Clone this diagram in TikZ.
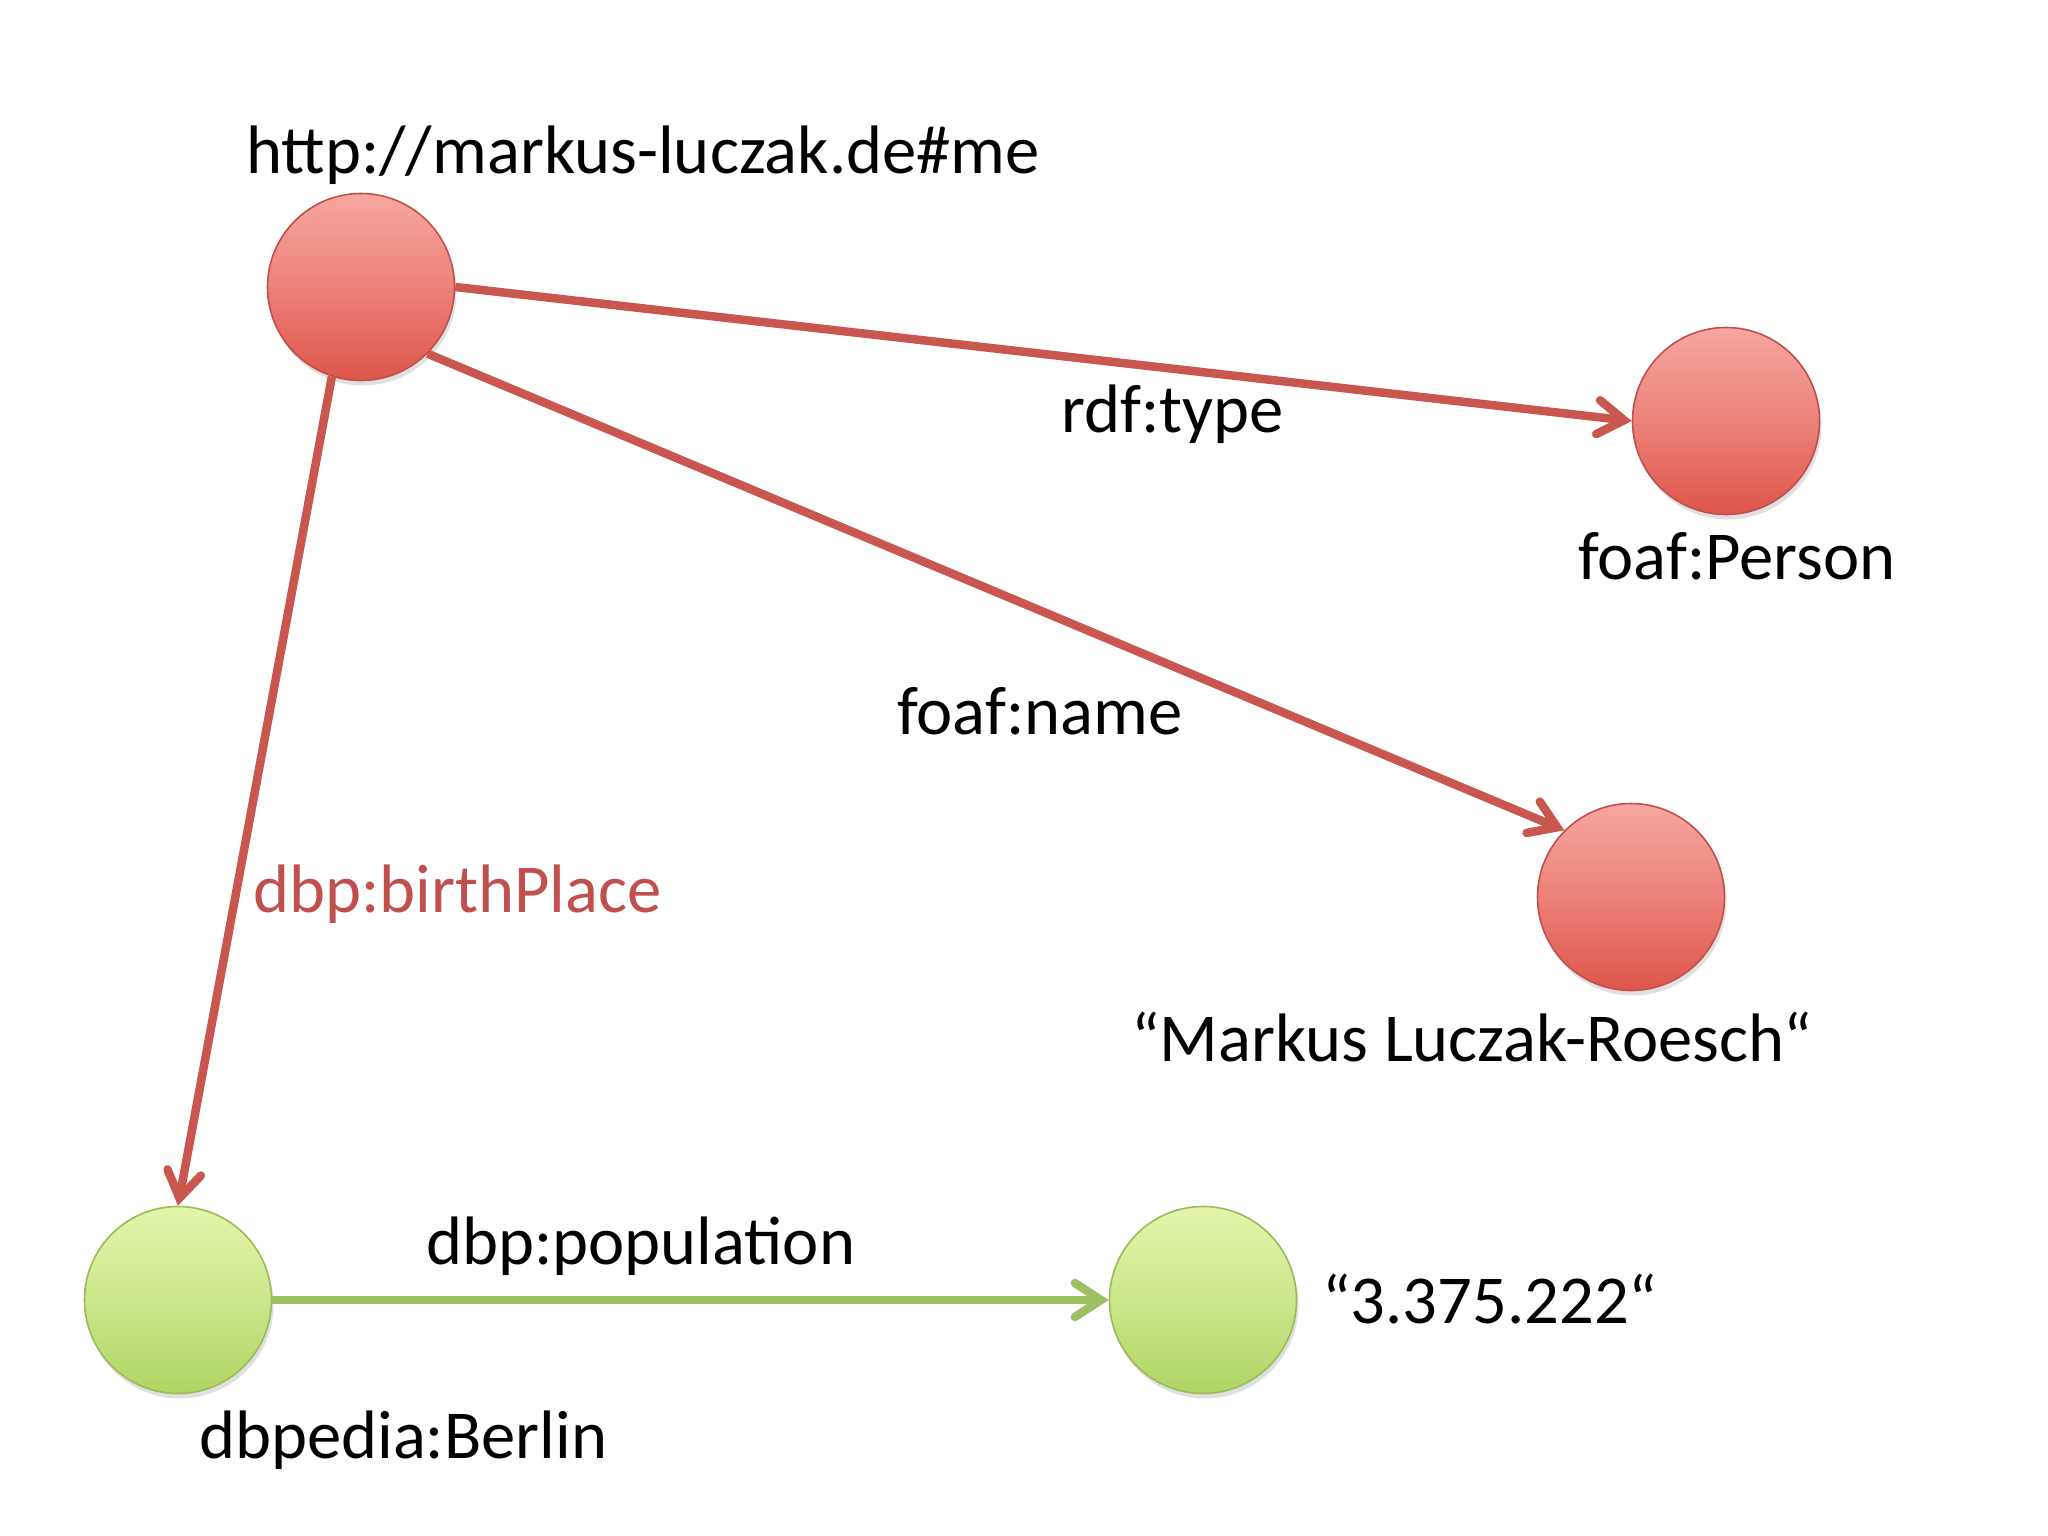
\documentclass[tikz,border=0pt]{standalone}
\usepackage{fontspec}
\setmainfont{Carlito}
\usetikzlibrary{arrows.meta,shadows}
\definecolor{redline}{HTML}{C9574F}
\definecolor{redborder}{HTML}{C0504D}
\definecolor{redtop}{HTML}{F7A6A1}
\definecolor{redbot}{HTML}{DE554B}
\definecolor{greenline}{HTML}{9FC060}
\definecolor{greenborder}{HTML}{9BBB59}
\definecolor{greentop}{HTML}{E3F5AC}
\definecolor{greenbot}{HTML}{B0D464}
\definecolor{labelred}{HTML}{C0504D}
\tikzset{
  res/.style={circle, minimum size=187pt, inner sep=0pt, line width=1.6pt,
    draw=redborder, top color=redtop, bottom color=redbot, middle color=redtop!55!redbot,
    drop shadow={shadow xshift=2pt, shadow yshift=-5pt, opacity=0.12, fill=black}},
  lit/.style={circle, minimum size=187pt, inner sep=0pt, line width=1.6pt,
    draw=greenborder, top color=greentop, bottom color=greenbot, middle color=greentop!55!greenbot,
    drop shadow={shadow xshift=2pt, shadow yshift=-5pt, opacity=0.12, fill=black}},
  redarrow/.style={draw=redline, line width=8.5pt,
    -{Straight Barb[length=26pt, width=34pt, line cap=round]}},
  greenarrow/.style={draw=greenline, line width=8.5pt,
    -{Straight Barb[length=26pt, width=34pt, line cap=round]}},
  lbl/.style={anchor=base west, inner sep=0pt, font=\fontsize{68.6}{80}\selectfont},
}
\begin{document}
\begin{tikzpicture}[x=1pt, y=-1pt]
\useasboundingbox[fill=white] (0,0) rectangle (2048,1536);
% nodes
\node[res] (me) at (361,287) {};
\node[res] (person) at (1726,421) {};
\node[res] (name) at (1631,897) {};
\node[lit] (berlin) at (178,1300) {};
\node[lit] (pop) at (1203,1300) {};
% connectors
\draw[redarrow] (me.east) -- (person.west);
\draw[redarrow] (me.south east) -- (name.north west);
\draw[redarrow] (me.252) -- (berlin.north);
\draw[greenarrow] (berlin.east) -- (pop.west);
% labels
\node[lbl] (lme) at (246,174) {http://markus-luczak.de\#me};
\node[lbl] (ltype) at (1061,432) {rdf:type};
\node[lbl] (lperson) at (1578,579) {foaf:Person};
\node[lbl] (lname) at (897,734) {foaf:name};
\node[lbl, text=labelred] (lbirth) at (253,912) {dbp:birthPlace};
\node[lbl] (lnameval) at (1131,1061) {“Markus Luczak-Roesch“};
\node[lbl] (lpop) at (426,1264) {dbp:population};
\node[lbl] (lpopval) at (1322,1323) {“3.375.222“};
\node[lbl] (lberlin) at (199,1458) {dbpedia:Berlin};
\end{tikzpicture}
\end{document}
